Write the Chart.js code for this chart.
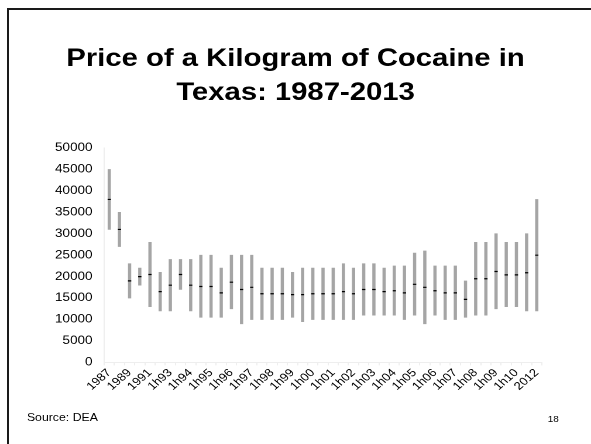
<!DOCTYPE html>
<html>
<head>
<meta charset="utf-8">
<script src="https://cdn.jsdelivr.net/npm/chart.js@4"></script>
<style>
  html, body { margin: 0; padding: 0; background: #fff; }
  body { width: 591px; height: 444px; position: relative; overflow: hidden; }
  /* slide frame */
  #frame { position: absolute; left: 7px; top: 8px; right: -10px; bottom: -10px;
           border-left: 2px solid #1a1a1a; border-top: 2px solid #1a1a1a; }
  /* the slide is stretched sideways, so draw it narrower and widen it */
  #slide { position: absolute; left: 0; top: 0; width: 505px; height: 444px;
           transform: scaleX(1.1703); transform-origin: 0 0; }
  #wrap { position: absolute; left: 0; top: 0; width: 505px; height: 444px; }
  .note { position: absolute; font-family: "Liberation Sans", Arial, sans-serif; color: #000; }
  #source { left: 23px; top: 411px; font-size: 10.5px; }
  #page { left: 468px; top: 414px; font-size: 8.5px; }
</style>
</head>
<body>
<div id="frame"></div>
<div id="slide">
  <div id="wrap"><canvas id="chart"></canvas></div>
  <div class="note" id="source">Source: DEA</div>
  <div class="note" id="page">18</div>
</div>
<script>
// ===============================
// DATOS
// ===============================
const periods = [
  "1987", "1988", "1989", "1990", "1991", "1992",
  "1h93", "2h93", "1h94", "2h94", "1h95", "2h95", "1h96", "2h96",
  "1h97", "2h97", "1h98", "2h98", "1h99", "2h99", "1h00", "2h00",
  "1h01", "2h01", "1h02", "2h02", "1h03", "2h03", "1h04", "2h04",
  "1h05", "2h05", "1h06", "2h06", "1h07", "2h07", "1h08", "2h08",
  "1h09", "2h09", "1h10", "2h10", "2012"
];

// low / high / midpoint price, $ per kilogram
const lows = [
  31000, 27000, 15000, 18000, 13000, 12000,
  12000, 17000, 12000, 10500, 10500, 10500, 12500, 9000,
  10000, 10000, 10000, 10000, 10500, 9500, 10000, 10000,
  10000, 10000, 10000, 11000, 11000, 11000, 11000, 10000,
  11000, 9000, 11000, 10000, 10000, 10500, 11000, 11000,
  12500, 13000, 13000, 12000, 12000
];
const highs = [
  45000, 35000, 23000, 22000, 28000, 21000,
  24000, 24000, 24000, 25000, 25000, 22000, 25000, 25000,
  25000, 22000, 22000, 22000, 21000, 22000, 22000, 22000,
  22000, 23000, 22000, 23000, 23000, 22000, 22500, 22500,
  25500, 26000, 22500, 22500, 22500, 19000, 28000, 28000,
  30000, 28000, 28000, 30000, 38000
];
const mids = [
  38000, 31000, 19000, 20000, 20500, 16500,
  18000, 20500, 18000, 17700, 17700, 16200, 18700, 17000,
  17500, 16000, 16000, 16000, 15800, 15800, 16000, 16000,
  16000, 16500, 16000, 17000, 17000, 16500, 16700, 16200,
  18200, 17500, 16700, 16200, 16200, 14700, 19500, 19500,
  21200, 20400, 20400, 20900, 25000
];

const yTicks = [0, 5000, 10000, 15000, 20000, 25000, 30000, 35000, 40000, 45000, 50000];

const FONT = "'Liberation Sans', Arial, Helvetica, sans-serif";

// ===============================
// GRÁFICO
// ===============================
new Chart(document.getElementById("chart"), {
  data: {
    labels: periods,
    datasets: [
      {
        type: "line",
        label: "Mid",
        data: mids,
        showLine: false,
        pointStyle: "line",
        pointRadius: 1.4,
        pointBorderWidth: 1.2,
        pointBorderColor: "#000",
        borderColor: "#000",
        order: 0
      },
      {
        type: "bar",
        label: "Range",
        data: lows.map((l, i) => [l, highs[i]]),
        backgroundColor: "#a5a5a5",
        barThickness: 2.1,
        borderSkipped: false,
        order: 1
      }
    ]
  },
  options: {
    responsive: true,
    maintainAspectRatio: false,
    devicePixelRatio: 2,
    animation: false,
    layout: { padding: { left: 42, right: 42, top: 0, bottom: 50 } },
    plugins: {
      legend: { display: false },
      tooltip: { enabled: false },
      title: {
        display: true,
        text: ["Price of a Kilogram of Cocaine in", "Texas: 1987-2013"],
        color: "#000",
        font: { family: FONT, size: 25, weight: "bold", lineHeight: 1.36 },
        padding: { top: 42, bottom: 38 }
      }
    },
    scales: {
      x: {
        grid: { display: true, drawOnChartArea: false, drawTicks: true, tickLength: 3, color: "#eeeeee" },
        border: { display: true, color: "#eeeeee" },
        ticks: {
          autoSkip: false,
          maxRotation: 45,
          minRotation: 45,
          padding: 1,
          color: "#000",
          font: { family: FONT, size: 11 },
          callback: (v, i) => (i % 2 === 0 ? periods[i] : "")
        }
      },
      y: {
        min: 0,
        max: 50000,
        afterBuildTicks: s => { s.ticks = yTicks.map(v => ({ value: v })); },
        afterFit: s => { s.width = 47; },
        grid: { display: false, drawTicks: false },
        border: { display: true, color: "#eeeeee" },
        ticks: {
          padding: 10,
          color: "#000",
          font: { family: FONT, size: 11.5 },
          callback: v => String(v)
        }
      }
    }
  }
});
</script>
</body>
</html>
